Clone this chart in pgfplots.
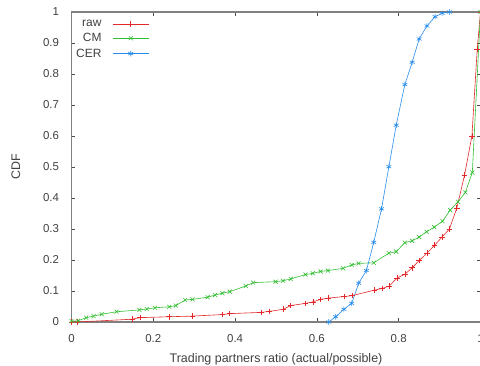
\documentclass[border=0pt]{standalone}
\usepackage{fontspec}
\setmainfont{Liberation Sans}
\usepackage{pgfplots}
\pgfplotsset{compat=1.18}
\definecolor{cred}{RGB}{226,40,40}
\definecolor{cgreen}{RGB}{50,190,50}
\definecolor{cblue}{RGB}{40,140,235}
\definecolor{cax}{RGB}{128,128,128}
\begin{document}
\begin{tikzpicture}
\useasboundingbox (0bp,0bp) rectangle (480bp,366bp);
\clip (0bp,0bp) rectangle (480bp,366bp);
\begin{axis}[
  at={(71.5bp,44bp)}, anchor=south west,
  width=409bp, height=310bp, scale only axis,
  xmin=0, xmax=1, ymin=0, ymax=1,
  xtick={0,0.2,0.4,0.6,0.8,1},
  ytick={0,0.1,...,1.01},
  yticklabels={0,0.1,0.2,0.3,0.4,0.5,0.6,0.7,0.8,0.9,1},
  xticklabels={0,0.2,0.4,0.6,0.8,1},
  tick align=inside, major tick length=4bp,
  axis line style={draw=cax, line width=1.2pt},
  every tick/.style={draw=black!70, line width=0.5pt},
  tick label style={font=\fontsize{11.5}{13}\selectfont, text=black!75},
  xticklabel style={yshift=-9bp},
  yticklabel style={xshift=-9bp},
  label style={font=\fontsize{12.5}{14}\selectfont, text=black!75},
  xlabel={Trading partners ratio (actual/possible)},
  ylabel={CDF},
  xlabel style={yshift=-4bp},
  ylabel style={yshift=16bp},
  legend style={at={(axis description cs:0.005,0.983)}, anchor=north west, draw=none, fill=none,
    font=\fontsize{12}{13}\selectfont, text=black!75, row sep=1.5bp, inner sep=0.5bp},
  legend cell align=right,
  legend plot pos=right,
  legend image code/.code={\path (0bp,0bp); \draw[mark repeat=2,mark phase=2,#1] plot coordinates {(9bp,0bp) (27bp,0bp) (45bp,0bp)};},
  every axis plot/.append style={line width=0.6pt, mark size=2.8bp},
]
\addplot[cred, mark=+] coordinates {
(0,0) (0.015,0) (0.148,0.009) (0.167,0.014) (0.239,0.017) (0.296,0.019)
(0.369,0.024) (0.387,0.027) (0.463,0.031) (0.483,0.034) (0.518,0.041)
(0.536,0.053) (0.572,0.060) (0.590,0.065) (0.609,0.073) (0.627,0.077)
(0.666,0.082) (0.686,0.085) (0.741,0.103) (0.759,0.108) (0.777,0.116)
(0.796,0.142) (0.815,0.154) (0.833,0.175) (0.850,0.198) (0.869,0.222)
(0.888,0.248) (0.906,0.274) (0.924,0.300) (0.942,0.367) (0.961,0.474)
(0.979,0.600) (0.992,0.880) (1,1)
};
\addlegendentry{raw}
\addplot[cgreen, mark=x] coordinates {
(0,0.003) (0.016,0.004) (0.036,0.014) (0.054,0.019) (0.074,0.025)
(0.110,0.033) (0.166,0.039) (0.184,0.042) (0.204,0.046) (0.239,0.049)
(0.255,0.053) (0.278,0.071) (0.296,0.073) (0.333,0.080) (0.351,0.087)
(0.369,0.093) (0.387,0.098) (0.426,0.116) (0.444,0.127) (0.499,0.130)
(0.517,0.133) (0.536,0.139) (0.572,0.153) (0.590,0.157) (0.609,0.163)
(0.627,0.166) (0.664,0.173) (0.685,0.184) (0.702,0.189) (0.739,0.191)
(0.776,0.222) (0.794,0.227) (0.815,0.256) (0.833,0.262) (0.850,0.274)
(0.868,0.291) (0.887,0.306) (0.907,0.325) (0.926,0.361) (0.945,0.388)
(0.963,0.418) (0.980,0.482) (1,1)
};
\addlegendentry{CM}
\addplot[cblue, mark=asterisk] coordinates {
(0.629,0) (0.646,0.017) (0.666,0.041) (0.685,0.060) (0.702,0.125)
(0.721,0.166) (0.739,0.257) (0.758,0.365) (0.776,0.501) (0.794,0.635)
(0.815,0.766) (0.833,0.838) (0.850,0.913) (0.869,0.955) (0.889,0.985)
(0.906,0.996) (0.924,1.0)
};
\addlegendentry{CER}
\end{axis}
\end{tikzpicture}
\end{document}
